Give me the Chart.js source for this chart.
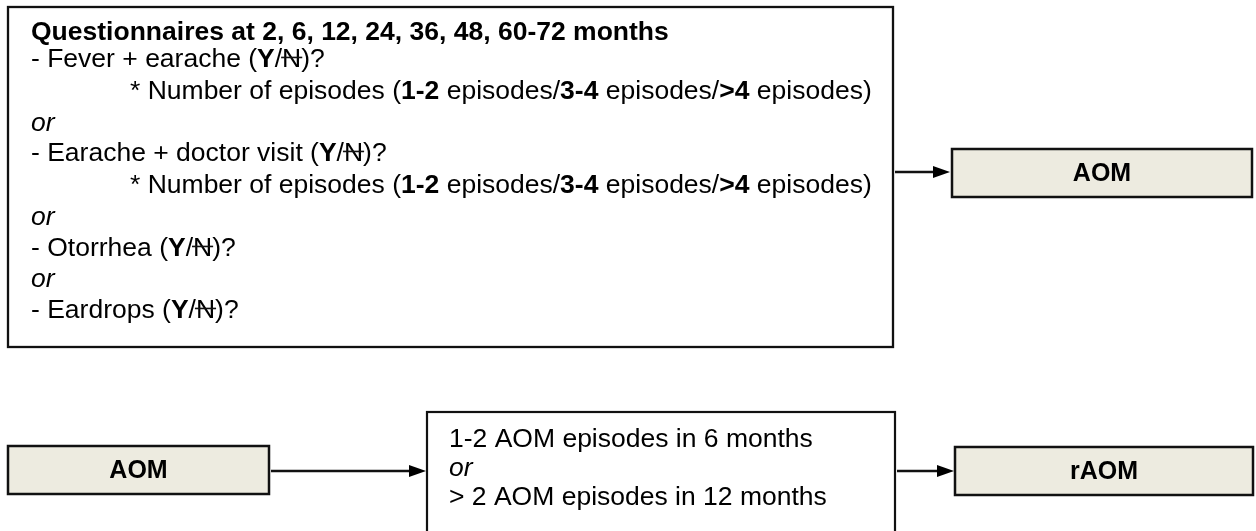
<!DOCTYPE html>
<html lang="en">
<head>
  <meta charset="UTF-8">
  <title>AOM definition</title>
  <script src="https://cdn.jsdelivr.net/npm/chart.js"></script>
  <style>
    html, body { margin: 0; padding: 0; background: #fff; }
    #wrap { width: 1256px; height: 531px; position: relative; }
  </style>
</head>
<body>
  <div id="wrap"><canvas id="flowChart"></canvas></div>

  <script>
    // text of the questionnaire box: [text, style] where b = bold, i = italic, s = struck out
    const questionLines = [
      [['Questionnaires at 2, 6, 12, 24, 36, 48, 60-72 months', 'b']],
      [['- Fever + earache (', ''], ['Y', 'b'], ['/', ''], ['N', 's'], [')?', '']],
      [['* Number of episodes (', ''], ['1-2', 'b'], [' episodes/', ''], ['3-4', 'b'], [' episodes/', ''], ['>4', 'b'], [' episodes)', '']],
      [['or', 'i']],
      [['- Earache + doctor visit (', ''], ['Y', 'b'], ['/', ''], ['N', 's'], [')?', '']],
      [['* Number of episodes (', ''], ['1-2', 'b'], [' episodes/', ''], ['3-4', 'b'], [' episodes/', ''], ['>4', 'b'], [' episodes)', '']],
      [['or', 'i']],
      [['- Otorrhea (', ''], ['Y', 'b'], ['/', ''], ['N', 's'], [')?', '']],
      [['or', 'i']],
      [['- Eardrops (', ''], ['Y', 'b'], ['/', ''], ['N', 's'], [')?', '']]
    ];
    const indented = [false, false, true, false, false, true, false, false, false, false];

    const criteriaLines = [
      [['1-2 AOM episodes in 6 months', '']],
      [['or', 'i']],
      [['> 2 AOM episodes in 12 months', '']]
    ];

    const outcomeLabels = ['AOM', 'AOM', 'rAOM'];

    // layout in chart units (the axes run 0..1256 and 0..531, top down)
    const bigBox = { x0: 8, y0: 7, x1: 893, y1: 347 };
    const qBaselines = [40, 67, 99, 131, 161, 193, 225, 256, 287, 318];
    const critBox = { x0: 427, y0: 412, x1: 895, y1: 560 };
    const critBaselines = [447, 476, 505];
    const labelBoxes = [
      { x0: 952, y0: 149, x1: 1252, y1: 197 },
      { x0: 8, y0: 446, x1: 269, y1: 494 },
      { x0: 955, y0: 447, x1: 1253, y1: 495 }
    ];
    const arrows = [
      { x0: 893, x1: 950, y: 172 },
      { x0: 269, x1: 426, y: 471 },
      { x0: 895, x1: 954, y: 471 }
    ];

    const FONT = '"Liberation Sans", Arimo, Arial, Helvetica, sans-serif';

    function fontFor(style, size) {
      if (style === 'b') return `bold ${size}px ${FONT}`;
      if (style === 'i') return `italic ${size}px ${FONT}`;
      return `${size}px ${FONT}`;
    }

    function drawRich(ctx, segs, x, y, size) {
      segs.forEach(([txt, style]) => {
        ctx.font = fontFor(style, size);
        ctx.fillText(txt, x, y);
        const w = ctx.measureText(txt).width;
        if (style === 's') {
          ctx.beginPath();
          ctx.lineWidth = 1.6;
          ctx.moveTo(x - 1, y - size * 0.36);
          ctx.lineTo(x + w + 1, y - size * 0.36);
          ctx.stroke();
        }
        x += w;
      });
    }

    const flowPlugin = {
      id: 'flow',
      afterDraw(chart) {
        const ctx = chart.ctx;
        const sx = v => chart.scales.x.getPixelForValue(v);
        const sy = v => chart.scales.y.getPixelForValue(v);
        ctx.save();
        ctx.fillStyle = '#000';
        ctx.strokeStyle = '#111';
        ctx.textBaseline = 'alphabetic';

        // fit text size to the title width
        ctx.font = fontFor('b', 20);
        const size = 20 * 638 / ctx.measureText(questionLines[0][0][0]).width;

        const rect = (b, fill, lw) => {
          const x = sx(b.x0), y = sy(b.y0), w = sx(b.x1) - x, h = sy(b.y1) - y;
          if (fill) { ctx.fillStyle = fill; ctx.fillRect(x, y, w, h); }
          ctx.lineWidth = lw;
          ctx.strokeStyle = '#111';
          ctx.strokeRect(x, y, w, h);
          ctx.fillStyle = '#000';
        };

        rect(bigBox, null, 2.3);
        questionLines.forEach((line, i) => {
          drawRich(ctx, line, sx(indented[i] ? 130 : 31), sy(qBaselines[i]), size);
        });

        rect(critBox, null, 2.2);
        criteriaLines.forEach((line, i) => {
          drawRich(ctx, line, sx(449), sy(critBaselines[i]), size);
        });

        labelBoxes.forEach((b, i) => {
          rect(b, '#edebe0', 2.5);
          ctx.font = fontFor('b', 25);
          ctx.textAlign = 'center';
          ctx.textBaseline = 'middle';
          ctx.fillText(outcomeLabels[i], (sx(b.x0) + sx(b.x1)) / 2, (sy(b.y0) + sy(b.y1)) / 2 + 1);
          ctx.textAlign = 'left';
          ctx.textBaseline = 'alphabetic';
        });

        arrows.forEach(a => {
          const x0 = sx(a.x0), x1 = sx(a.x1), y = sy(a.y);
          ctx.beginPath();
          ctx.lineWidth = 2.6;
          ctx.moveTo(x0 + 2, y);
          ctx.lineTo(x1 - 14, y);
          ctx.stroke();
          ctx.beginPath();
          ctx.moveTo(x1, y);
          ctx.lineTo(x1 - 17, y - 6);
          ctx.lineTo(x1 - 17, y + 6);
          ctx.closePath();
          ctx.fill();
        });
        ctx.restore();
      }
    };

    new Chart(document.getElementById('flowChart').getContext('2d'), {
      type: 'scatter',
      data: { datasets: [{ data: [], pointRadius: 0 }] },
      options: {
        responsive: true,
        maintainAspectRatio: false,
        animation: false,
        layout: { padding: 0 },
        plugins: { legend: { display: false }, tooltip: { enabled: false } },
        scales: {
          x: { type: 'linear', min: 0, max: 1256, display: false },
          y: { type: 'linear', min: 0, max: 531, reverse: true, display: false }
        }
      },
      plugins: [flowPlugin]
    });
  </script>
</body>
</html>
